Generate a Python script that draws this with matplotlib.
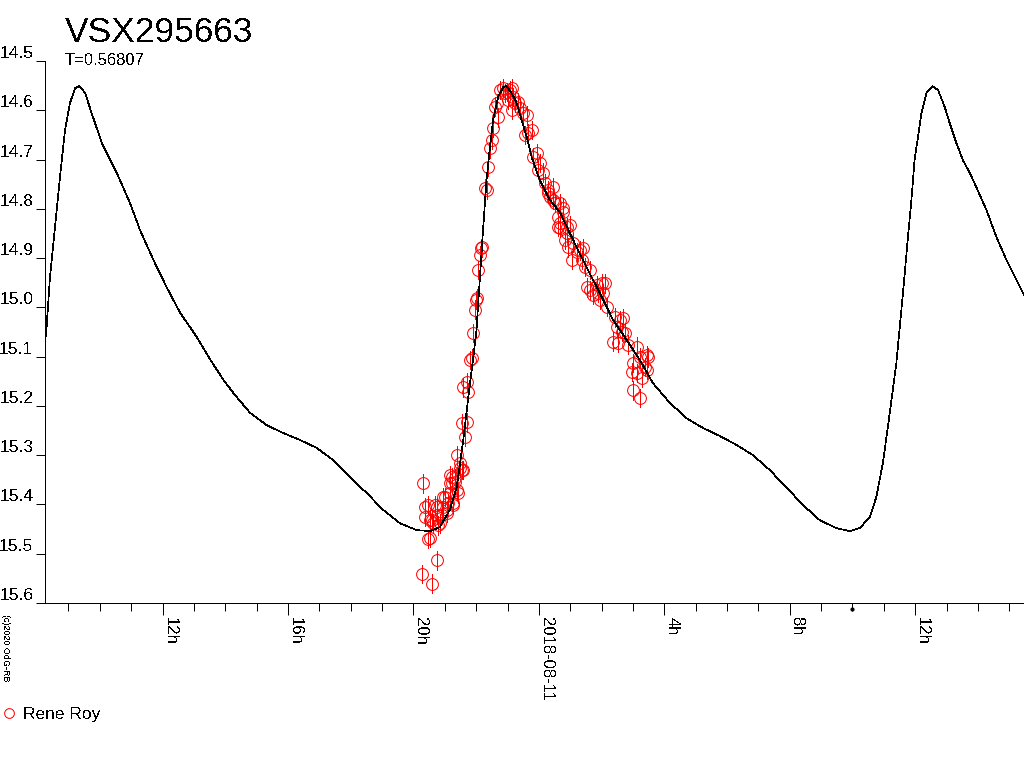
import matplotlib
matplotlib.use("Agg")
import matplotlib.pyplot as plt
from matplotlib.lines import Line2D

plt.rcParams['font.family'] = ['Liberation Sans', 'DejaVu Sans']
plt.rcParams['text.antialiased'] = False
plt.rcParams['lines.antialiased'] = False

star = "VSX295663"
period_txt = "T=0.56807"
observer = "Rene Roy"

# hours relative to 2018-08-11 00:00
curve_h = [-15.75, -15.71, -15.59, -15.43, -15.27, -15.11, -14.95, -14.79, -14.65, -14.47,
           -14.26, -13.94, -13.46, -13.04, -12.72, -12.29, -11.87, -11.44, -10.91, -10.49,
           -10.06, -9.74, -9.21, -8.68, -8.15, -7.62, -7.09, -6.56, -6.02, -5.49,
           -4.96, -4.43, -3.90, -3.47, -3.16, -2.84, -2.62, -2.41, -2.25, -2.09,
           -1.99, -1.78, -1.67, -1.56, -1.46, -1.30, -1.14, -1.03, -0.87, -0.71,
           -0.55, -0.39, -0.23, 0.03, 0.35, 0.67, 1.09, 1.52, 1.94, 2.37,
           2.80, 3.22, 3.64, 4.18, 4.71, 5.24, 5.77, 6.30, 6.83, 7.36,
           7.89, 8.42, 8.96, 9.49, 9.91, 10.23, 10.55, 10.76, 10.97, 11.19,
           11.40, 11.61, 11.77, 11.88, 11.98, 12.09, 12.20, 12.36, 12.55, 12.73,
           12.94, 13.10, 13.31, 13.52, 13.74, 13.95, 14.27, 14.59, 14.91, 15.23, 15.47]
curve_mag = [15.070, 15.052, 14.938, 14.837, 14.735, 14.640, 14.585, 14.555, 14.551, 14.565,
             14.606, 14.666, 14.727, 14.788, 14.843, 14.904, 14.959, 15.011, 15.060, 15.105,
             15.147, 15.174, 15.214, 15.239, 15.255, 15.269, 15.285, 15.310, 15.344, 15.377,
             15.411, 15.438, 15.452, 15.454, 15.446, 15.411, 15.365, 15.269, 15.182, 15.101,
             15.046, 14.843, 14.742, 14.675, 14.620, 14.573, 14.553, 14.551, 14.565, 14.585,
             14.620, 14.654, 14.695, 14.742, 14.782, 14.807, 14.863, 14.918, 14.971, 15.026,
             15.066, 15.107, 15.154, 15.194, 15.225, 15.245, 15.261, 15.279, 15.300, 15.330,
             15.365, 15.401, 15.432, 15.448, 15.454, 15.448, 15.426, 15.385, 15.316, 15.214,
             15.113, 14.971, 14.857, 14.782, 14.701, 14.654, 14.606, 14.565, 14.551, 14.559,
             14.593, 14.626, 14.666, 14.701, 14.727, 14.756, 14.802, 14.857, 14.904, 14.944, 14.975]

obs_h = [-3.73, -3.41, -3.25, -3.54, -3.47, -3.70, -3.63, -3.54, -3.63, -3.47,
         -3.41, -3.38, -3.31, -3.25, -3.25, -3.22, -3.16, -3.09, -3.06, -3.06,
         -3.00, -2.93, -2.93, -2.90, -2.84, -2.84, -2.84, -2.77, -2.77, -2.74,
         -2.74, -2.68, -2.68, -2.61, -2.61, -2.58, -2.52, -2.52, -2.45, -2.42,
         -2.45, -2.36, -2.29, -2.42, -2.26, -2.29, -2.20, -2.14, -2.10, -2.04,
         -2.01, -1.98, -1.94, -1.88, -1.85, -1.82, -1.72, -1.66, -1.63, -1.56,
         -1.50, -1.47, -1.40, -1.34, -1.31, -1.24, -1.15, -1.08, -1.02, -0.99,
         -0.92, -0.86, -0.86, -0.83, -0.76, -0.67, -0.61, -0.51, -0.38, -0.45,
         -0.35, -0.22, -0.19, -0.06, 0.03, -0.03, 0.13, 0.19, 0.29, 0.29,
         0.45, 0.35, 0.45, 0.51, 0.67, 0.61, 0.76, 0.76, 0.67, 0.89,
         0.67, 0.99, 0.61, 0.89, 0.83, 1.08, 0.92, 1.21, 1.31, 1.40,
         1.05, 1.37, 1.47, 1.63, 1.53, 1.63, 1.85, 2.01, 2.10, 1.72,
         1.88, 2.04, 1.94, 2.17, 2.42, 2.58, 2.68, 2.49, 2.65, 2.74,
         2.36, 2.52, 2.84, 3.12, 3.22, 3.44, 3.38, 3.00, 2.96, 3.12,
         3.28, 3.44, 3.00, 3.22, 3.47]
obs_mag = [15.541, 15.561, 15.513, 15.470, 15.468, 15.357, 15.405, 15.401, 15.425, 15.432,
           15.432, 15.438, 15.401, 15.405, 15.421, 15.442, 15.438, 15.421, 15.385, 15.405,
           15.385, 15.411, 15.417, 15.397, 15.377, 15.357, 15.340, 15.344, 15.357, 15.401,
           15.397, 15.346, 15.354, 15.371, 15.300, 15.377, 15.316, 15.326, 15.330, 15.330,
           15.235, 15.263, 15.233, 15.162, 15.172, 15.152, 15.107, 15.103, 15.052, 15.005,
           14.985, 14.981, 14.924, 14.894, 14.880, 14.878, 14.758, 14.762, 14.715, 14.677,
           14.660, 14.636, 14.593, 14.585, 14.614, 14.559, 14.555, 14.565, 14.563, 14.579,
           14.559, 14.555, 14.599, 14.573, 14.585, 14.583, 14.595, 14.606, 14.610, 14.650,
           14.646, 14.640, 14.695, 14.687, 14.707, 14.721, 14.727, 14.748, 14.762, 14.768,
           14.756, 14.776, 14.782, 14.788, 14.788, 14.817, 14.798, 14.806, 14.829, 14.837,
           14.839, 14.833, 14.837, 14.849, 14.863, 14.869, 14.878, 14.888, 14.884, 14.880,
           14.904, 14.904, 14.918, 14.924, 14.959, 14.965, 14.955, 14.951, 14.951, 14.975,
           14.971, 14.971, 14.985, 14.999, 15.020, 15.026, 15.022, 15.040, 15.050, 15.052,
           15.070, 15.072, 15.076, 15.080, 15.101, 15.097, 15.121, 15.113, 15.131, 15.133,
           15.143, 15.127, 15.168, 15.184, 15.101]
obs_err = 0.019

major_h = [-12, -8, -4, 0, 4, 8, 12]
major_lbl = ["12h", "16h", "20h", "2018-08-11", "4h", "8h", "12h"]
minor_h = list(range(-15, 16))
mag_ticks = [14.5, 14.6, 14.7, 14.8, 14.9, 15.0, 15.1, 15.2, 15.3, 15.4, 15.5, 15.6]
now_h = 10

fig = plt.figure(figsize=(10.24, 7.68), dpi=100)
ax = fig.add_axes([0.0439, 0.2148, 0.9561, 0.7058])

ax.errorbar(obs_h, obs_mag, yerr=obs_err, fmt='o', mfc='none', mec='red', ecolor='red',
            ms=8.5, mew=0.72, elinewidth=0.72, capsize=0, zorder=2)
ax.plot(curve_h, curve_mag, color='black', lw=0.5, zorder=3)

ax.set_xlim(-15.75, 15.47)
ax.set_ylim(15.6, 14.5)

ax.spines['top'].set_visible(False)
ax.spines['right'].set_visible(False)
ax.spines['left'].set_linewidth(0.72)
ax.spines['bottom'].set_linewidth(0.72)

ax.set_yticks(mag_ticks)
ax.set_yticklabels(["%.1f" % m for m in mag_ticks], fontsize=12.5)
for lab in ax.get_yticklabels():
    lab.set_verticalalignment('bottom')
ax.tick_params(axis='y', direction='out', length=6.5, width=0.72, pad=2)

ax.set_xticks(major_h)
ax.set_xticklabels(major_lbl, rotation=-90, fontsize=12, ha='left', va='top')
ax.set_xticks(minor_h, minor=True)
ax.tick_params(axis='x', which='major', direction='out', length=8.5, width=0.72, pad=1.5)
ax.tick_params(axis='x', which='minor', direction='out', length=6, width=0.72)

ax.plot(now_h, 15.612, marker='o', ms=2, color='black', clip_on=False)

fig.text(0.063, 0.945, star, fontsize=25.5, va='baseline', ha='left')
fig.text(0.063, 0.9154, period_txt, fontsize=12, va='baseline', ha='left')
fig.text(0.001, 0.2, "(c)2020 OdG-RB", fontsize=6.5, rotation=-90, ha='left', va='top')

h = Line2D([], [], marker='o', ls='none', mfc='none', mec='red', ms=7, mew=0.72)
fig.legend(handles=[h], labels=[observer], loc='center left', bbox_to_anchor=(0.0, 0.0703),
           frameon=False, handlelength=1.0, handletextpad=0.3, borderaxespad=0, borderpad=0,
           fontsize=12.5)

fig.savefig("out.png", dpi=100)
